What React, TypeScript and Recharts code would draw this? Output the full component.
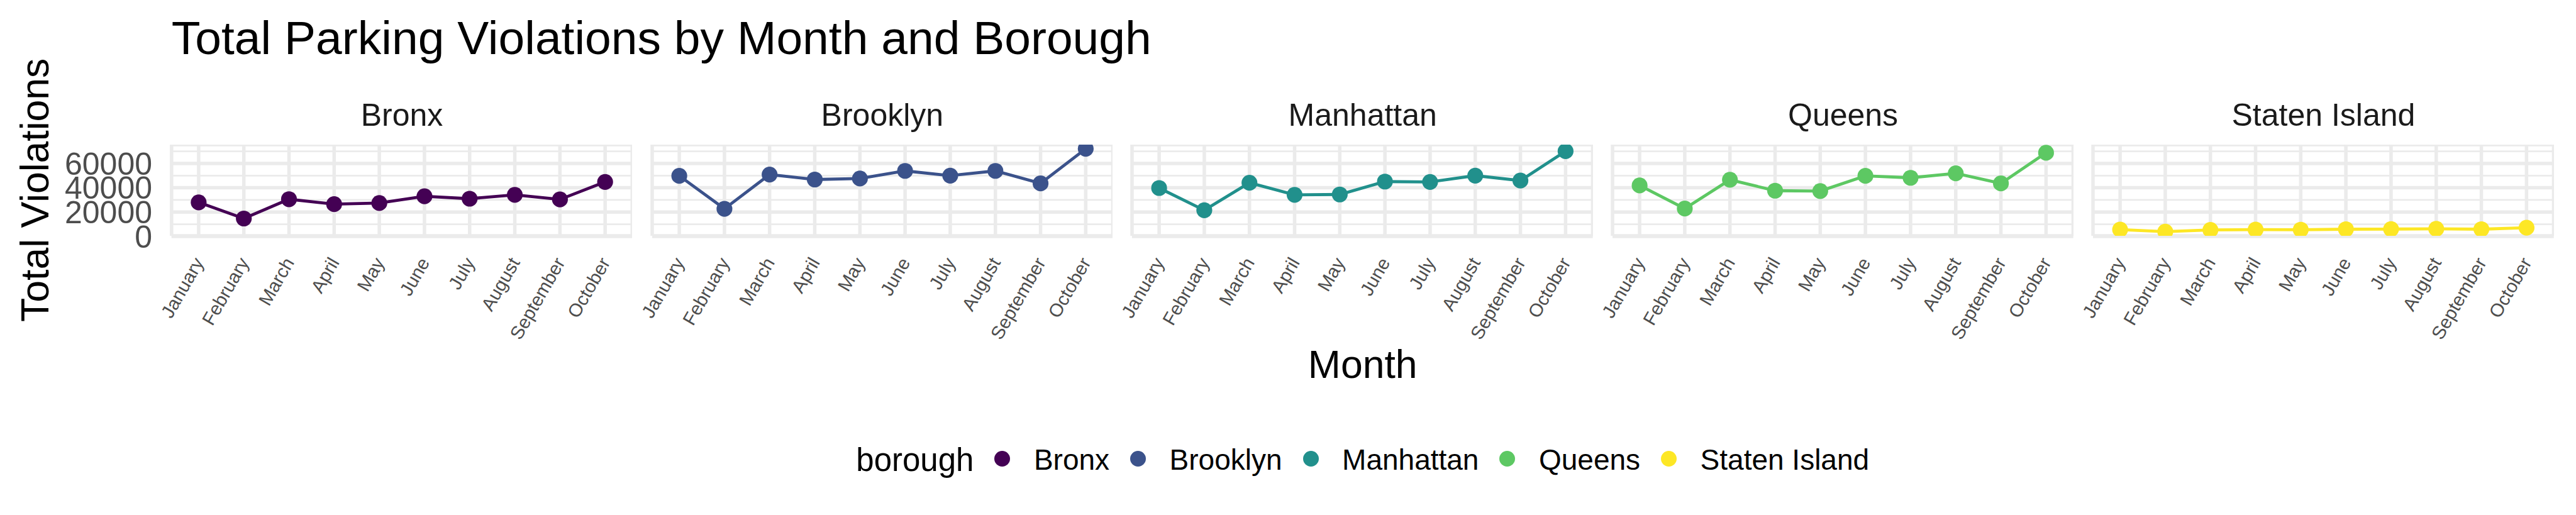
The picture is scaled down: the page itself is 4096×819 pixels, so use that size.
import React from "react";
import {
  LineChart,
  Line,
  XAxis,
  YAxis,
  CartesianGrid,
  ReferenceLine,
} from "recharts";

// monthly totals, one list per borough
const months = [
  "January",
  "February",
  "March",
  "April",
  "May",
  "June",
  "July",
  "August",
  "September",
  "October",
];
const boroughs = ["Bronx", "Brooklyn", "Manhattan", "Queens", "Staten Island"];
const colors = ["#440154", "#3B528B", "#21908C", "#5DC863", "#FDE725"];

const bronx = [28000, 14700, 30600, 26500, 27400, 33000, 31000, 34200, 30400, 44800];
const brooklyn = [49800, 22700, 50900, 46800, 47600, 53900, 50000, 53900, 43600, 72100];
const manhattan = [39800, 21500, 44100, 34200, 34500, 45100, 44800, 50000, 45900, 70100];
const queens = [41900, 22900, 46600, 37600, 37300, 49800, 48200, 51900, 43600, 68800];
const statenIsland = [5600, 3900, 5300, 5600, 5500, 5900, 6000, 6200, 5900, 7100];

const yTicks = [0, 20000, 40000, 60000];
const yMinorTicks = [10000, 30000, 50000, 70000];

const series = [bronx, brooklyn, manhattan, queens, statenIsland];

// ggplot style 5% expansion of the shared y range
const allValues = series.flat();
const yMin = Math.min(...allValues);
const yMax = Math.max(...allValues);
const yLo = yMin - 0.05 * (yMax - yMin);
const yHi = yMax + 0.05 * (yMax - yMin);

const S = 0.682;
const FONT = "'Liberation Sans', Arial, sans-serif";
const PANEL_LEFT = 400 * S;
const PANEL_W = 1074 * S;
const PANEL_GAP = 46 * S;
const PANEL_TOP = 337 * S;
const PANEL_H = ((yHi - yLo) * 170 * S) / 60000;
const X_AXIS_H = 190;
const X_PAD = (PANEL_W / 10.2) * 0.6;
const SPAN_W = 5 * PANEL_W + 4 * PANEL_GAP;

function MonthTick(props: any) {
  const { x, y, payload } = props;
  const ax = x + 9.1;
  const ay = y + 42.3;
  return (
    <text
      x={ax}
      y={ay}
      textAnchor="end"
      fontSize={29.5}
      fill="#4D4D4D"
      fontFamily={FONT}
      transform={`rotate(-60, ${ax}, ${ay})`}
    >
      {payload.value}
    </text>
  );
}

function Panel({ index }: { index: number }) {
  const first = index === 0;
  const padL = first ? PANEL_LEFT : 40;
  const left = PANEL_LEFT + index * (PANEL_W + PANEL_GAP) - padL;
  const color = colors[index];
  const data = months.map((m, i) => ({ month: m, value: series[index][i] }));

  return (
    <div style={{ position: "absolute", left, top: PANEL_TOP }}>
      <LineChart
        width={PANEL_W + padL}
        height={PANEL_H + X_AXIS_H}
        data={data}
        margin={{ top: 0, right: 0, bottom: 0, left: first ? 0 : padL }}
      >
        <CartesianGrid stroke="#EBEBEB" strokeWidth={5.5} />
        {yMinorTicks.map((v) => (
          <ReferenceLine key={v} y={v} stroke="#EBEBEB" strokeWidth={2.8} />
        ))}
        <XAxis
          dataKey="month"
          type="category"
          interval={0}
          axisLine={false}
          tickLine={false}
          tickSize={0}
          tickMargin={0}
          height={X_AXIS_H}
          padding={{ left: X_PAD, right: X_PAD }}
          tick={(p: any) => <MonthTick {...p} />}
        />
        <YAxis
          type="number"
          domain={[yLo, yHi]}
          allowDataOverflow
          ticks={yTicks}
          interval={0}
          hide={!first}
          width={first ? PANEL_LEFT : 0}
          axisLine={false}
          tickLine={false}
          tickSize={0}
          tickMargin={30.8}
          tick={{ fontSize: 50, fill: "#4D4D4D", fontFamily: FONT }}
        />
        <Line
          type="linear"
          dataKey="value"
          stroke={color}
          strokeWidth={4.8}
          dot={{ r: 12.6, fill: color, stroke: color, strokeWidth: 0 }}
          activeDot={false}
          isAnimationActive={false}
        />
      </LineChart>
    </div>
  );
}

export default function App() {
  const panelCenter = PANEL_LEFT + SPAN_W / 2;
  return (
    <div
      style={{
        position: "absolute",
        left: 0,
        top: 0,
        width: 4096,
        height: 819,
        background: "#fff",
        overflow: "hidden",
        fontFamily: FONT,
      }}
    >
      {boroughs.map((b, i) => (
        <Panel key={b} index={i} />
      ))}

      <svg
        width={4096}
        height={819}
        style={{ position: "absolute", left: 0, top: 0, pointerEvents: "none" }}
        fontFamily={FONT}
      >
        <text x={PANEL_LEFT} y={86} fontSize={75} fill="#000">
          Total Parking Violations by Month and Borough
        </text>
        {boroughs.map((b, i) => (
          <text
            key={b}
            x={PANEL_LEFT + i * (PANEL_W + PANEL_GAP) + PANEL_W / 2}
            y={199.6}
            fontSize={50}
            fill="#1A1A1A"
            textAnchor="middle"
          >
            {b}
          </text>
        ))}
        <text
          x={77}
          y={PANEL_TOP + PANEL_H / 2}
          fontSize={62.5}
          fill="#000"
          textAnchor="middle"
          transform={`rotate(-90, 77, ${PANEL_TOP + PANEL_H / 2})`}
        >
          Total Violations
        </text>
        <text x={panelCenter} y={601} fontSize={62.5} fill="#000" textAnchor="middle">
          Month
        </text>
      </svg>

      <div
        style={{
          position: "absolute",
          left: PANEL_LEFT,
          width: SPAN_W,
          top: 705,
          height: 52,
          display: "flex",
          justifyContent: "center",
          alignItems: "center",
          color: "#000",
        }}
      >
        <span style={{ fontSize: 51, lineHeight: 1 }}>borough</span>
        {boroughs.map((b, i) => (
          <React.Fragment key={b}>
            <span
              style={{
                marginLeft: 33,
                width: 25,
                height: 25,
                borderRadius: "50%",
                background: colors[i],
                transform: "translateY(-2px)",
                flexShrink: 0,
              }}
            />
            <span style={{ marginLeft: 37.5, fontSize: 46, lineHeight: 1, whiteSpace: "nowrap" }}>
              {b}
            </span>
          </React.Fragment>
        ))}
      </div>
    </div>
  );
}
